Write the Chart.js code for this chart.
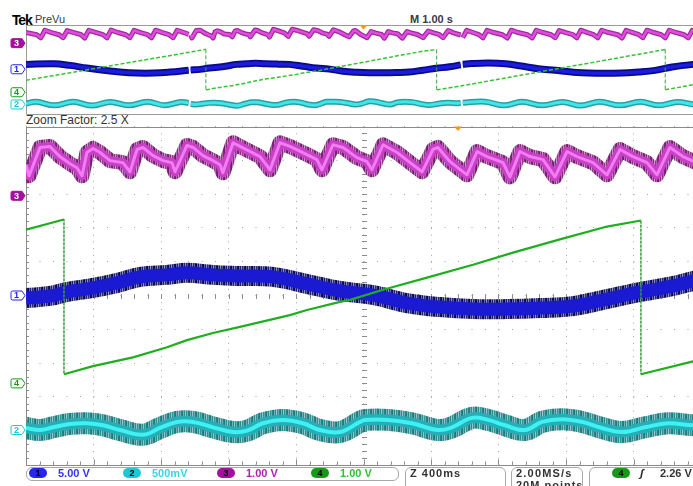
<!DOCTYPE html>
<html>
<head>
<meta charset="utf-8">
<title>Tek PreVu</title>
<script src="https://cdn.jsdelivr.net/npm/chart.js"></script>
<style>
  html, body { margin: 0; padding: 0; background: #fff; }
  body { position: relative; width: 693px; height: 486px; overflow: hidden;
         font-family: "Liberation Sans", Arial, sans-serif; color: #333; }
  canvas { position: absolute; left: 0; }
  .t { position: absolute; white-space: nowrap; line-height: 1; }
  .st { position: absolute; white-space: nowrap; line-height: 1; font-weight: bold; font-size: 11px; top: 468px; }
  .box { position: absolute; box-sizing: border-box; border: 1px solid #a9a9a9; border-radius: 6px; }
  .pill { position: absolute; top: 468px; width: 18px; height: 10px; border-radius: 5px;
          font: bold 9px "Liberation Sans", Arial, sans-serif; line-height: 10px; text-align: center; color: #000; }
</style>
</head>
<body>
<div class="t" style="left:12px;top:12.5px;font-size:14px;font-weight:bold;color:#000;letter-spacing:-1.2px">Tek</div>
<div class="t" style="left:35px;top:13.6px;font-size:11px;color:#3a3a3a">PreVu</div>
<div class="t" id="mlabel" style="left:410px;top:13.6px;font-size:11px;font-weight:bold;color:#3a3a3a"></div>
<div class="t" id="zlabel" style="left:26px;top:113.6px;font-size:12px;color:#333"></div>
<canvas id="overview" width="710" height="100" style="top:20px"></canvas>
<canvas id="zoom" width="710" height="350" style="top:120px"></canvas>
<div id="status"></div>
<script>
// ---- acquisition settings -------------------------------------------------
const CH_NAMES  = ['1', '2', '3', '4'];
const CH_SCALE  = [5, 0.5, 1, 1];            // volts per division
const CH_POS    = [0, -3.98, 2.95, -2.6];    // ground marker, divisions from centre
const CH_LABELS = ['5.00 V', '500mV', '1.00 V', '1.00 V'];
const CH_COLORS = ['#2626ee', '#1cc8d2', '#a2109c', '#159a15'];
const CH_TEXT   = ['#3434ee', '#3cd6e0', '#b020b0', '#34c034'];

const RECORD_SECONDS = 10;     // M 1.00 s/div
const ZOOM_START = 2.44;       // left edge of the zoom window, s
const ZOOM_SECONDS = 4;        // Z 400 ms/div
const ZOOM_FACTOR = 2.5;
const TRIGGER_TIME = 5.0;
const TRIGGER_LEVEL = '2.26 V';

// ---- zoom window traces: [time in window (s), volts] ----------------------
const zoomCh1 = [[0.000,-0.37],[0.142,-0.07],[0.243,0.52],[0.397,1.12],[0.539,1.86],[0.676,2.75],
  [0.836,3.05],[0.954,3.35],[1.108,3.05],[1.268,2.90],[1.464,2.75],[1.665,1.71],[1.861,0.67],
  [2.056,0.07],[2.258,-1.12],[2.453,-1.71],[2.649,-2.01],[2.850,-2.01],[3.046,-1.86],[3.241,-1.56],
  [3.443,-0.52],[3.639,0.52],[3.834,1.41],[4.000,2.46]];

const zoomCh2 = [[0.000,0.03],[0.083,0.00],[0.160,0.04],[0.261,0.09],[0.361,0.10],[0.456,0.07],
  [0.557,0.00],[0.693,-0.07],[0.794,0.03],[0.895,0.12],[0.990,0.12],[1.108,0.04],[1.227,-0.03],
  [1.310,-0.01],[1.404,0.10],[1.523,0.15],[1.641,0.10],[1.742,0.00],[1.861,-0.03],[1.979,0.12],
  [2.009,0.15],[2.145,0.15],[2.287,0.10],[2.441,0.00],[2.524,0.04],[2.643,0.18],[2.738,0.15],
  [2.839,0.07],[2.957,0.00],[3.058,0.12],[3.176,0.16],[3.295,0.12],[3.413,0.03],[3.532,-0.03],
  [3.668,0.04],[3.804,0.10],[3.953,0.07],[4.000,0.09]];

const zoomCh3 = [[0.000,0.92],[0.018,0.59],[0.083,1.43],[0.142,1.46],[0.201,1.16],[0.261,0.95],
  [0.302,0.83],[0.332,0.59],[0.361,1.28],[0.397,1.40],[0.439,1.28],[0.498,1.04],[0.575,0.98],
  [0.616,0.71],[0.658,1.37],[0.693,1.43],[0.753,1.19],[0.812,1.04],[0.865,0.98],[0.883,0.71],
  [0.954,1.49],[0.990,1.43],[1.049,1.19],[1.108,1.04],[1.150,0.92],[1.167,0.68],[1.227,1.57],
  [1.268,1.46],[1.387,1.16],[1.446,0.77],[1.505,1.57],[1.564,1.46],[1.665,1.22],[1.724,1.07],
  [1.754,0.77],[1.819,1.51],[1.879,1.43],[1.961,1.13],[2.021,1.01],[2.050,0.77],[2.116,1.51],
  [2.199,1.28],[2.276,0.98],[2.347,0.71],[2.412,1.37],[2.441,1.43],[2.513,1.01],[2.613,0.62],
  [2.673,1.31],[2.732,1.16],[2.827,0.98],[2.868,0.56],[2.927,1.31],[2.987,1.16],[3.064,1.07],
  [3.135,0.56],[3.206,1.31],[3.265,1.16],[3.360,0.98],[3.443,0.62],[3.520,1.37],[3.597,1.16],
  [3.680,0.98],[3.739,0.62],[3.816,1.43],[3.893,1.16],[4.000,0.92]];

const zoomCh4 = [[0.000,4.55],[0.225,4.85],[0.225,0.27],[0.397,0.51],[0.634,0.77],[0.836,1.07],
  [0.954,1.28],[1.108,1.49],[1.268,1.67],[1.564,2.02],[1.665,2.17],[1.861,2.41],[1.920,2.47],
  [2.116,2.77],[2.376,3.13],[2.649,3.51],[2.886,3.87],[3.164,4.26],[3.443,4.64],[3.644,4.82],
  [3.644,0.27],[3.953,0.65],[4.000,0.71]];

// ---- record outside the zoom window: [record time (s), volts] --------------
const recCh1Before = [[0.00,2.75],[0.41,3.09],[0.65,2.19],[0.90,0.67],[1.15,-0.62],[1.39,-1.57],
  [1.64,-2.14],[1.89,-2.14],[2.13,-1.57],[2.41,-0.55]];
const recCh1After = [[6.47,2.80],[6.60,3.20],[6.85,3.48],[7.10,3.09],[7.34,1.80],[7.59,0.30],
  [7.84,-0.62],[8.08,-1.57],[8.33,-2.14],[8.83,-2.14],[9.07,-1.57],[9.32,-0.62],[9.57,1.24],
  [9.88,2.75],[10.00,3.00]];

const recCh2Before = [[0.00,0.05],[0.15,0.15],[0.42,-0.05],[0.70,0.15],[0.97,-0.06],[1.25,0.14],
  [1.52,-0.05],[1.80,0.15],[2.05,-0.04],[2.30,0.14],[2.41,0.08]];
const recCh2After = [[6.47,0.10],[6.80,0.16],[7.08,-0.05],[7.35,0.15],[7.65,-0.05],[7.95,0.14],
  [8.22,-0.06],[8.50,0.15],[8.80,-0.05],[9.10,0.15],[9.38,-0.05],[9.65,0.14],[9.90,0.00],[10.00,0.05]];

const recCh3Before = [[0.00,1.20],[0.16,0.95],[0.22,0.60],[0.28,1.45],[0.38,1.20],[0.49,0.95],
  [0.55,0.62],[0.61,1.42],[0.71,1.18],[0.81,0.98],[0.87,0.58],[0.93,1.45],[1.03,1.22],[1.14,0.96],
  [1.20,0.60],[1.26,1.48],[1.36,1.20],[1.48,0.95],[1.54,0.62],[1.60,1.44],[1.70,1.18],[1.80,0.97],
  [1.86,0.60],[1.92,1.46],[2.02,1.20],[2.12,0.95],[2.18,0.62],[2.24,1.45],[2.34,1.20],[2.41,1.00]];
const recCh3After = [[6.47,0.62],[6.53,1.45],[6.62,1.20],[6.71,0.96],[6.77,0.60],[6.83,1.44],
  [6.93,1.20],[7.06,0.95],[7.13,0.58],[7.19,1.46],[7.29,1.20],[7.43,0.95],[7.50,0.60],[7.56,1.45],
  [7.66,1.20],[7.78,0.95],[7.84,0.62],[7.90,1.42],[8.00,1.18],[8.10,0.97],[8.16,0.60],[8.22,1.46],
  [8.32,1.20],[8.41,0.96],[8.47,0.60],[8.53,1.45],[8.63,1.20],[8.77,0.95],[8.83,0.58],[8.89,1.44],
  [8.99,1.20],[9.08,0.96],[9.14,0.62],[9.20,1.46],[9.30,1.20],[9.41,0.96],[9.47,0.60],[9.53,1.45],
  [9.63,1.20],[9.75,0.95],[9.81,0.60],[9.87,1.44],[10.00,1.10]];

const recCh4Before = [[0.00,1.35]];
const recCh4After = [[9.47,4.83],[9.47,0.29],[10.00,1.00]];

// ---- helpers ----------------------------------------------------------------
const toXY = pts => pts.map(([x, y]) => ({ x, y }));
const shifted = pts => pts.map(([t, v]) => [t + ZOOM_START, v]);
function joinRecord(before, zoomPart, after, broken) {
  const a = broken ? [{ x: ZOOM_START, y: null }] : [];
  const b = broken ? [{ x: ZOOM_START + ZOOM_SECONDS, y: null }] : [];
  return [...toXY(before), ...a, ...toXY(shifted(zoomPart)), ...b, ...toXY(after)];
}

// fine comb texture for the noise envelope of a trace
function grain(color) {
  const c = document.createElement('canvas');
  c.width = 7; c.height = 1;
  const g = c.getContext('2d');
  [1, 0.6, 0.9, 0.45, 0.85, 0.65, 0.95].forEach((a, i) => {
    g.globalAlpha = a; g.fillStyle = color; g.fillRect(i, 0, 1, 1);
  });
  return g.createPattern(c, 'repeat');
}

function channelAxes() {
  const axes = {};
  CH_NAMES.forEach((n, i) => {
    axes['y' + n] = { type: 'linear', axis: 'y', position: 'left', display: false,
      min: (-5 - CH_POS[i]) * CH_SCALE[i], max: (5 - CH_POS[i]) * CH_SCALE[i] };
  });
  return axes;
}

function layers(data, ch, styles, base) {
  return styles.map(([color, width], k) => Object.assign({
    data, yAxisID: 'y' + ch, borderColor: color, borderWidth: width,
    pointRadius: 0, pointHitRadius: 0, borderJoinStyle: 'round', fill: false
  }, base, { order: base.order - k }));
}

const isDrop = c => c.p0.parsed.x === c.p1.parsed.x;

function tag(ctx, edge, y, label, color, filled) {
  const l = edge - 15, r = edge - 4, t = y - 4.5, b = y + 4.5;
  ctx.beginPath();
  ctx.moveTo(l + 1.5, t); ctx.lineTo(r, t); ctx.lineTo(edge - 1, y); ctx.lineTo(r, b);
  ctx.lineTo(l + 1.5, b); ctx.quadraticCurveTo(l, b, l, b - 1.5);
  ctx.lineTo(l, t + 1.5); ctx.quadraticCurveTo(l, t, l + 1.5, t); ctx.closePath();
  ctx.fillStyle = filled ? color : '#fff'; ctx.fill();
  ctx.strokeStyle = color; ctx.lineWidth = 1; ctx.stroke();
  ctx.fillStyle = filled ? '#fff' : color;
  ctx.font = 'bold 9px "Liberation Sans", Arial, sans-serif';
  ctx.textAlign = 'center'; ctx.textBaseline = 'middle';
  ctx.fillText(label, (l + r) / 2, y + 0.5);
}

// graticule extras, frame, ground markers and trigger position
const scopeDecor = {
  id: 'scopeDecor',
  beforeDatasetsDraw(chart, args, o) {
    const { ctx, chartArea: a, scales } = chart;
    const x = scales.x, d = scales.div;
    const px = v => Math.round(v) + 0.5;
    ctx.save();
    if (o.ticks) {
      ctx.strokeStyle = '#8c8c8c'; ctx.lineWidth = 1;
      const cx = px(x.getPixelForValue((x.min + x.max) / 2));
      const cy = px(d.getPixelForValue(0));
      ctx.beginPath();
      for (let k = -25; k <= 25; k++) {
        const yy = px(d.getPixelForValue(k / 5));
        ctx.moveTo(cx - 2.5, yy); ctx.lineTo(cx + 2.5, yy);
        ctx.moveTo(a.left, yy); ctx.lineTo(a.left + 3, yy);
      }
      for (let k = 0; k <= 50; k++) {
        const xx = px(x.getPixelForValue(x.min + k * (x.max - x.min) / 50));
        ctx.moveTo(xx, cy - 2.5); ctx.lineTo(xx, cy + 2.5);
        ctx.moveTo(xx, a.bottom); ctx.lineTo(xx, a.bottom - (k % 5 ? 3 : 5));
      }
      ctx.stroke();
    }
    ctx.strokeStyle = o.frame; ctx.lineWidth = 1;
    ctx.beginPath();
    ctx.moveTo(a.right, px(a.top)); ctx.lineTo(px(a.left), px(a.top));
    ctx.lineTo(px(a.left), px(a.bottom)); ctx.lineTo(a.right, px(a.bottom));
    ctx.stroke();
    ctx.restore();
  },
  afterDraw(chart, args, o) {
    const { ctx, chartArea: a, scales } = chart;
    ctx.save();
    CH_NAMES.forEach((n, i) => {
      const y = scales['y' + n].getPixelForValue(0);
      tag(ctx, a.left, y, n, CH_COLORS[i], n === '3');
    });
    const tx = scales.x.getPixelForValue(o.trigger);
    ctx.fillStyle = '#f29a1a';
    ctx.beginPath();
    ctx.moveTo(tx - 4, a.top); ctx.lineTo(tx + 4, a.top); ctx.lineTo(tx, a.top + 4.5);
    ctx.closePath(); ctx.fill();
    ctx.restore();
  }
};

function makeChart(id, cfg) {
  return new Chart(document.getElementById(id), {
    type: 'line',
    data: { datasets: cfg.datasets },
    options: {
      responsive: false, animation: false, devicePixelRatio: 1, events: [],
      layout: { padding: cfg.padding },
      plugins: { legend: { display: false }, tooltip: { enabled: false },
                 scopeDecor: cfg.decor },
      scales: Object.assign({ x: cfg.x, div: cfg.div }, channelAxes())
    },
    plugins: [scopeDecor]
  });
}

// ---- record overview --------------------------------------------------------
const ovCh1 = joinRecord(recCh1Before, zoomCh1, recCh1After, true);
const ovCh2 = joinRecord(recCh2Before, zoomCh2, recCh2After, true);
const ovCh3 = joinRecord(recCh3Before, zoomCh3, recCh3After, true);
const ovCh4 = joinRecord(recCh4Before, zoomCh4, recCh4After, false);

makeChart('overview', {
  padding: { left: 26, top: 5, right: 9, bottom: 6.5 },
  decor: { ticks: false, frame: '#9a9a9a', trigger: TRIGGER_TIME },
  x: { type: 'linear', axis: 'x', position: 'bottom', min: 0, max: RECORD_SECONDS, display: false },
  div: { type: 'linear', axis: 'y', position: 'left', min: -5, max: 5, display: false },
  datasets: [
    { data: ovCh4, yAxisID: 'y4', borderColor: '#36c236', borderWidth: 1.5, borderDash: [4, 2],
      pointRadius: 0, tension: 0, order: 1, fill: false,
      segment: { borderColor: c => isDrop(c) ? '#4c9a4c' : undefined, borderWidth: c => isDrop(c) ? 1 : undefined } },
    ...layers(ovCh1, '1', [['#0a0a86', 7], ['#1c1ce0', 3.5]], { order: 11, tension: 0.4 }),
    ...layers(ovCh3, '3', [['#a02a9a', 5], ['#e04ce0', 2.5]], { order: 21, tension: 0 }),
    ...layers(ovCh2, '2', [['#2b9ea2', 6], ['#3fe6ea', 3]], { order: 31, tension: 0.4 })
  ]
});

// ---- zoom window ------------------------------------------------------------
makeChart('zoom', {
  padding: { left: 26, top: 6.5, right: 9, bottom: 5.5 },
  decor: { ticks: true, frame: '#8a8a8a', trigger: TRIGGER_TIME - ZOOM_START },
  x: { type: 'linear', axis: 'x', min: 0, max: ZOOM_SECONDS, position: 'bottom',
       afterBuildTicks: s => { s.ticks = Array.from({ length: 11 }, (_, i) => ({ value: i * ZOOM_SECONDS / 10 })); },
       ticks: { display: false }, grid: { color: '#a4a4a4', lineWidth: 1, drawTicks: false },
       border: { display: false, dash: [1, 5.76] } },
  div: { type: 'linear', axis: 'y', min: -5, max: 5, position: 'left',
       afterBuildTicks: s => { s.ticks = Array.from({ length: 11 }, (_, i) => ({ value: i - 5 })); },
       ticks: { display: false }, grid: { color: '#a4a4a4', lineWidth: 1, drawTicks: false },
       border: { display: false, dash: [1, 12.5] } },
  datasets: [
    { data: toXY(zoomCh4), yAxisID: 'y4', borderColor: '#1fae1f', borderWidth: 2.2,
      pointRadius: 0, tension: 0, order: 1, fill: false, borderJoinStyle: 'round',
      segment: { borderDash: c => isDrop(c) ? [2, 2] : undefined,
                 borderWidth: c => isDrop(c) ? 1 : undefined,
                 borderColor: c => isDrop(c) ? '#3a9a3a' : undefined } },
    ...layers(toXY(zoomCh1), '1', [[grain('#06065e'), 20], ['#1a1ad2', 13]], { order: 11, tension: 0.4 }),
    ...layers(toXY(zoomCh3), '3', [[grain('#7c1876'), 15], ['#c93fc8', 9], ['#f27cf2', 3]], { order: 21, tension: 0 }),
    ...layers(toXY(zoomCh2), '2', [[grain('#167e82'), 22], ['#24aeb6', 11], ['#40f0f2', 4]], { order: 31, tension: 0.4 })
  ]
});

// ---- header and status bar --------------------------------------------------
document.getElementById('mlabel').textContent = 'M ' + (RECORD_SECONDS / 10).toFixed(2) + ' s';
document.getElementById('zlabel').textContent = 'Zoom Factor: ' + ZOOM_FACTOR + ' X';

const status = document.getElementById('status');
function el(cls, css, text) {
  const e = document.createElement('div');
  e.className = cls; e.style.cssText = css;
  if (text != null) e.textContent = text;
  status.appendChild(e);
  return e;
}
el('box', 'left:26px;top:467px;width:373px;height:14px');
el('box', 'left:405px;top:467px;width:101px;height:30px');
el('box', 'left:511px;top:467px;width:72px;height:30px');
el('box', 'left:589px;top:467px;width:130px;height:30px');
CH_NAMES.forEach((n, i) => {
  const x = 29 + i * 94;
  el('pill', 'left:' + x + 'px;background:' + CH_COLORS[i], n);
  el('st', 'left:' + (x + 29) + 'px;color:' + CH_TEXT[i], CH_LABELS[i]);
});
el('st', 'left:410px;color:#333;letter-spacing:1px', 'Z ' + (ZOOM_SECONDS * 100) + 'ms');
el('st', 'left:516px;color:#333;letter-spacing:1.2px', '2.00MS/s');
el('st', 'left:516px;top:480px;color:#333;letter-spacing:1px', '20M points');
el('pill', 'left:612px;background:' + CH_COLORS[3], '4');
el('st', 'left:640px;color:#222;font-style:italic', 'ʃ');
el('st', 'left:660px;color:#333', TRIGGER_LEVEL);
</script>
</body>
</html>
